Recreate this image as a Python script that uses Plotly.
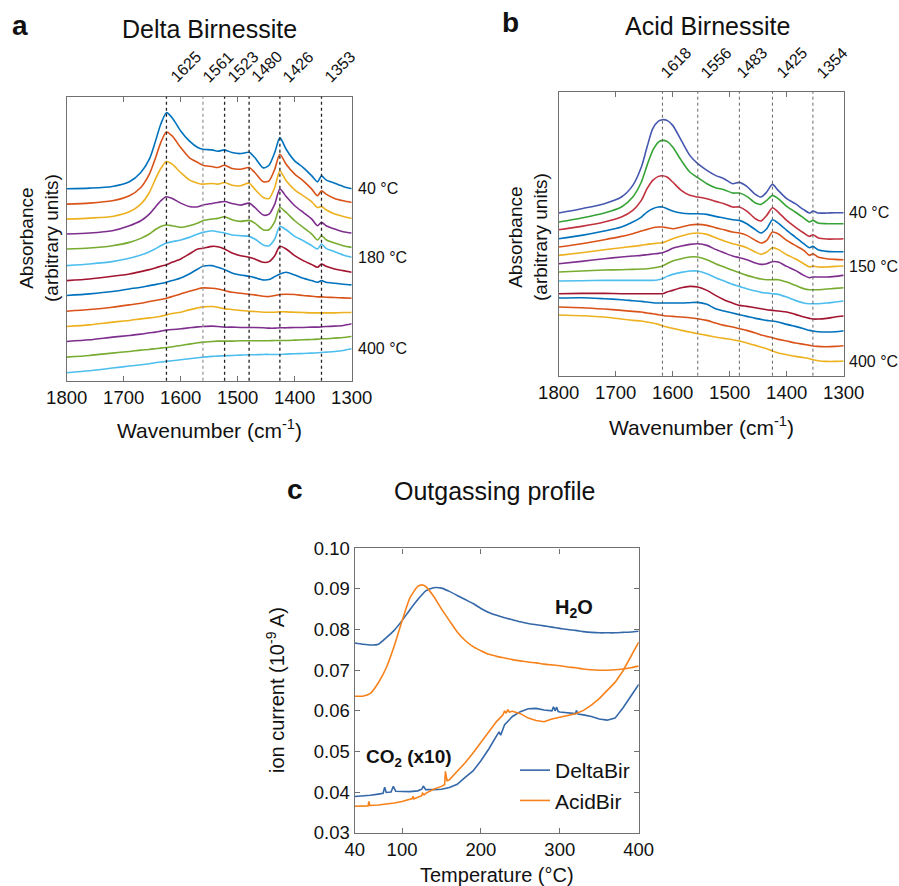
import plotly.graph_objects as go

W, H = 899, 886
FONT = "Liberation Sans, Arial, Helvetica, sans-serif"

# ---------------- Panel a: Delta Birnessite DRIFT spectra (offset, arbitrary units) ----------------
WN_A = [1800, 1760, 1720, 1690, 1670, 1655, 1645, 1635, 1625, 1615, 1600, 1585, 1570, 1561,
        1545, 1535, 1523, 1510, 1495, 1480, 1470, 1455, 1445, 1435, 1426, 1415, 1400, 1385,
        1370, 1360, 1353, 1345, 1330, 1315, 1300]

DELTA_01 = [577, 579, 584, 598, 626, 666, 716, 771, 806, 791, 751, 721, 701, 696, 694, 690, 694, 686,
            683, 687, 671, 640, 648, 686, 731, 696, 661, 641, 616, 598, 616, 604, 594, 584, 577]
DELTA_02 = [531, 534, 541, 556, 581, 621, 666, 716, 748, 736, 701, 671, 656, 648, 644, 641, 648, 638,
            636, 641, 626, 598, 601, 636, 681, 651, 621, 601, 576, 556, 571, 561, 548, 541, 536]
DELTA_03 = [486, 489, 494, 508, 531, 566, 604, 638, 659, 651, 626, 604, 594, 591, 593, 591, 596, 588,
            586, 594, 576, 551, 548, 581, 631, 601, 574, 556, 538, 521, 524, 514, 501, 494, 488]
DELTA_04 = [441, 444, 451, 466, 481, 501, 521, 541, 553, 548, 534, 524, 523, 528, 533, 536, 539, 533,
            528, 534, 521, 498, 501, 531, 576, 554, 526, 506, 486, 466, 476, 466, 456, 448, 444]
DELTA_05 = [396, 399, 406, 416, 428, 441, 454, 464, 468, 466, 461, 466, 474, 481, 486, 488, 493, 484,
            479, 482, 474, 454, 454, 478, 521, 506, 481, 461, 441, 423, 436, 424, 414, 406, 401]
DELTA_06 = [346, 351, 358, 368, 378, 388, 396, 406, 414, 418, 423, 431, 441, 446, 451, 448, 444, 438,
            436, 434, 426, 408, 406, 426, 464, 454, 434, 421, 406, 396, 411, 398, 388, 378, 371]
DELTA_07 = [301, 306, 314, 321, 328, 334, 339, 344, 349, 356, 366, 381, 396, 398, 404, 403, 396, 384,
            376, 371, 366, 356, 358, 376, 404, 396, 376, 361, 349, 341, 351, 344, 336, 331, 326]
DELTA_08 = [256, 261, 268, 276, 281, 286, 289, 292, 296, 301, 309, 321, 336, 344, 346, 341, 334, 324,
            318, 314, 310, 303, 304, 313, 321, 326, 318, 308, 301, 296, 301, 296, 293, 290, 288]
DELTA_09 = [209, 214, 221, 228, 233, 238, 241, 244, 248, 253, 261, 269, 276, 279, 278, 276, 271, 266,
            263, 260, 258, 254, 253, 256, 259, 260, 259, 256, 254, 252, 252, 251, 250, 249, 248]
DELTA_10 = [163, 168, 176, 181, 186, 189, 191, 194, 198, 202, 206, 213, 219, 222, 223, 221, 216, 214,
            211, 209, 208, 206, 206, 206, 207, 207, 206, 205, 204, 204, 204, 204, 204, 205, 205]
DELTA_11 = [118, 123, 131, 136, 140, 144, 146, 149, 152, 154, 156, 159, 162, 163, 164, 163, 161, 161,
            160, 160, 160, 159, 158, 158, 159, 159, 160, 160, 161, 161, 162, 163, 164, 166, 171]
DELTA_12 = [71, 76, 83, 88, 92, 94, 96, 98, 100, 102, 106, 110, 114, 116, 118, 119, 119, 119,
            120, 120, 120, 120, 120, 121, 121, 121, 122, 123, 124, 125, 126, 126, 128, 130, 133]
DELTA_13 = [24, 30, 38, 44, 48, 51, 54, 56, 58, 60, 63, 66, 69, 71, 73, 74, 75, 76,
            77, 78, 78, 79, 79, 79, 79, 80, 81, 82, 83, 84, 85, 86, 88, 91, 96]

PEAKS_A = [1625, 1561, 1523, 1480, 1426, 1353]
TEMPS_A = {"40": DELTA_01, "180": DELTA_06, "400": DELTA_13}

# ---------------- Panel b: Acid Birnessite DRIFT spectra ----------------
WN_B = [1800, 1760, 1720, 1690, 1670, 1655, 1645, 1635, 1625, 1618, 1610, 1600, 1585, 1570,
        1556, 1540, 1525, 1510, 1495, 1483, 1470, 1455, 1445, 1435, 1425, 1415, 1400, 1385,
        1370, 1360, 1354, 1345, 1330, 1315, 1300]

ACID_01 = [488, 501, 516, 536, 571, 626, 686, 741, 764, 768, 766, 751, 706, 661, 636, 616, 601, 591,
           576, 580, 568, 544, 536, 551, 574, 556, 531, 516, 498, 488, 494, 488, 488, 489, 489]
ACID_02 = [461, 473, 488, 506, 536, 581, 631, 676, 701, 706, 703, 686, 646, 611, 594, 576, 564, 558,
           548, 548, 538, 518, 514, 526, 541, 531, 508, 491, 473, 461, 466, 458, 456, 456, 456]
ACID_03 = [438, 448, 461, 476, 496, 526, 561, 586, 598, 600, 596, 581, 556, 541, 536, 531, 523, 516,
           506, 506, 494, 471, 464, 481, 504, 491, 466, 446, 428, 418, 423, 414, 410, 410, 411]
ACID_04 = [411, 421, 434, 446, 461, 476, 491, 501, 506, 506, 501, 494, 488, 486, 486, 484, 478, 473,
           468, 466, 456, 438, 428, 441, 468, 458, 436, 416, 396, 384, 388, 378, 373, 372, 372]
ACID_05 = [386, 396, 408, 418, 426, 434, 439, 444, 446, 446, 444, 441, 446, 452, 454, 451, 444, 438,
           431, 428, 421, 406, 398, 406, 431, 426, 406, 391, 376, 361, 366, 356, 351, 349, 348]
ACID_06 = [361, 369, 378, 384, 388, 391, 394, 396, 398, 399, 404, 411, 419, 426, 428, 424, 414, 404,
           396, 391, 384, 371, 364, 371, 384, 379, 363, 351, 336, 326, 329, 326, 326, 328, 329]
ACID_07 = [336, 343, 351, 356, 359, 361, 363, 365, 367, 369, 374, 382, 389, 394, 396, 391, 379, 369,
           359, 354, 348, 338, 334, 336, 342, 341, 328, 316, 301, 294, 296, 296, 296, 298, 301]
ACID_08 = [311, 314, 317, 318, 319, 320, 321, 323, 326, 329, 336, 344, 351, 356, 356, 348, 336, 326,
           316, 309, 301, 294, 290, 288, 288, 288, 281, 271, 261, 258, 258, 258, 260, 262, 264]
ACID_09 = [284, 285, 286, 286, 286, 286, 286, 286, 288, 291, 298, 304, 310, 314, 314, 306, 294, 284,
           274, 268, 261, 254, 250, 248, 246, 244, 236, 226, 218, 216, 216, 216, 218, 221, 224]
ACID_10 = [246, 247, 247, 246, 246, 246, 246, 246, 246, 246, 251, 256, 264, 268, 266, 256, 241, 228,
           218, 211, 208, 204, 201, 198, 196, 194, 191, 184, 176, 172, 170, 170, 172, 176, 179]
ACID_11 = [233, 234, 231, 228, 225, 223, 221, 219, 218, 218, 218, 218, 218, 219, 220, 214, 201, 194,
           188, 183, 178, 172, 169, 166, 164, 161, 154, 148, 141, 136, 134, 132, 131, 132, 135]
ACID_12 = [206, 204, 200, 196, 193, 191, 188, 186, 183, 181, 179, 178, 176, 174, 171, 166, 158, 151,
           146, 141, 136, 128, 122, 118, 114, 109, 104, 98, 94, 91, 89, 88, 87, 88, 90]
ACID_13 = [182, 180, 176, 170, 166, 164, 161, 158, 154, 150, 146, 142, 136, 131, 126, 121, 116, 112,
           108, 104, 98, 91, 86, 81, 74, 68, 63, 58, 54, 51, 48, 45, 43, 43, 44]

PEAKS_B = [1618, 1556, 1483, 1425, 1354]
TEMPS_B = {"40": ACID_01, "150": ACID_06, "400": ACID_13}

# ---------------- Panel c: outgassing profile (ion current, 1e-9 A) ----------------
T_H2O = [40, 50, 60, 70, 80, 90, 100, 110, 120, 125, 130, 140, 150, 160, 170, 180, 190, 200,
         210, 220, 230, 240, 250, 260, 270, 280, 290, 300, 310, 320, 330, 340, 350, 360, 370,
         380, 390, 400]
H2O_DELTA = [0.0767, 0.0764, 0.0762, 0.0764, 0.0780, 0.0798, 0.0822, 0.0849, 0.0874, 0.0885,
             0.0895, 0.0903, 0.0902, 0.0894, 0.0884, 0.0874, 0.0864, 0.0852, 0.0842, 0.0835,
             0.0829, 0.0824, 0.0819, 0.0815, 0.0812, 0.0809, 0.0806, 0.0803, 0.0800, 0.0798,
             0.0795, 0.0793, 0.0792, 0.0792, 0.0792, 0.0793, 0.0794, 0.0796]
H2O_ACID = [0.0636, 0.0636, 0.0643, 0.0669, 0.0706, 0.0759, 0.0821, 0.0878, 0.0906, 0.0910,
            0.0906, 0.0882, 0.0851, 0.0822, 0.0794, 0.0773, 0.0758, 0.0748, 0.0739, 0.0734,
            0.0730, 0.0726, 0.0723, 0.0720, 0.0718, 0.0715, 0.0713, 0.0711, 0.0708, 0.0706,
            0.0703, 0.0701, 0.0700, 0.0700, 0.0701, 0.0703, 0.0706, 0.0710]

T_CO2_DELTA = [40, 50, 60, 70, 76, 78, 80, 86, 89, 92, 100, 110, 120, 125, 127, 130, 140, 150, 160,
               170, 180, 190, 200, 210, 220, 223, 225, 227, 230, 240, 250, 260, 270, 280, 290, 292,
               294, 296, 298, 300, 310, 320, 321, 323, 330, 340, 350, 360, 370, 380, 390, 400]
CO2_DELTA = [0.0389, 0.0390, 0.0392, 0.0395, 0.0397, 0.0412, 0.0399, 0.0400, 0.0414, 0.0402,
             0.0402, 0.0401, 0.0403, 0.0407, 0.0415, 0.0406, 0.0406, 0.0407, 0.0411, 0.0419,
             0.0436, 0.0452, 0.0477, 0.0506, 0.0539, 0.0548, 0.0540, 0.0552, 0.0566, 0.0586,
             0.0598, 0.0605, 0.0606, 0.0602, 0.0600, 0.0610, 0.0600, 0.0609, 0.0598, 0.0597,
             0.0595, 0.0593, 0.0601, 0.0592, 0.0590, 0.0586, 0.0580, 0.0577, 0.0582, 0.0607,
             0.0636, 0.0665]

T_CO2_ACID = [40, 50, 57, 58, 59, 70, 80, 90, 100, 110, 113, 114, 115, 120, 125, 126, 128, 130, 140,
              150, 154, 155, 157, 160, 170, 180, 190, 200, 210, 220, 228, 230, 232, 234, 236, 240,
              250, 260, 270, 280, 290, 300, 310, 320, 330, 340, 350, 360, 370, 380, 390, 400]
CO2_ACID = [0.0365, 0.0366, 0.0366, 0.0377, 0.0367, 0.0368, 0.0370, 0.0373, 0.0377, 0.0381,
            0.0384, 0.0390, 0.0383, 0.0387, 0.0391, 0.0397, 0.0393, 0.0397, 0.0407, 0.0414,
            0.0418, 0.0451, 0.0428, 0.0430, 0.0451, 0.0472, 0.0496, 0.0523, 0.0550, 0.0574,
            0.0590, 0.0600, 0.0594, 0.0603, 0.0597, 0.0599, 0.0593, 0.0582, 0.0576, 0.0573,
            0.0580, 0.0584, 0.0588, 0.0593, 0.0601, 0.0614, 0.0630, 0.0650, 0.0670, 0.0698,
            0.0733, 0.0769]

# ---------------- styling ----------------
MATLAB = ["#0072BD", "#D95319", "#EDB120", "#7E2F8E", "#77AC30", "#4DBEEE", "#A2142F"]
COLORS_A = [MATLAB[i % 7] for i in range(13)]
COLORS_B = ["#4657B0", "#36A336", "#C1323F"] + [MATLAB[i % 7] for i in range(10)]
BLUE_C, ORANGE_C = "#3468A8", "#F7821B"
AXIS_COL = "#707070"
TXT = "#111111"


def px(x):
    return x / W


def py(y):
    return 1 - y / H


# panel boxes in pixels: left, right, top, bottom
BOX_A = (66.7, 351.7, 96.7, 380.7)
BOX_B = (558.7, 843.7, 91.7, 375.7)
BOX_C = (354.7, 638.7, 548.3, 832.7)

fig = go.Figure()

delta_series = [DELTA_01, DELTA_02, DELTA_03, DELTA_04, DELTA_05, DELTA_06, DELTA_07,
                DELTA_08, DELTA_09, DELTA_10, DELTA_11, DELTA_12, DELTA_13]
acid_series = [ACID_01, ACID_02, ACID_03, ACID_04, ACID_05, ACID_06, ACID_07,
               ACID_08, ACID_09, ACID_10, ACID_11, ACID_12, ACID_13]

for vals, col in zip(delta_series, COLORS_A):
    fig.add_trace(go.Scatter(x=WN_A, y=vals, mode="lines", xaxis="x", yaxis="y",
                             line=dict(color=col, width=1.6, shape="spline", smoothing=0.7),
                             showlegend=False, hoverinfo="skip"))
for vals, col in zip(acid_series, COLORS_B):
    fig.add_trace(go.Scatter(x=WN_B, y=vals, mode="lines", xaxis="x2", yaxis="y2",
                             line=dict(color=col, width=1.6, shape="spline", smoothing=0.7),
                             showlegend=False, hoverinfo="skip"))

fig.add_trace(go.Scatter(x=T_H2O, y=H2O_DELTA, mode="lines", xaxis="x3", yaxis="y3",
                         line=dict(color=BLUE_C, width=1.6, shape="spline", smoothing=0.6),
                         showlegend=False, hoverinfo="skip"))
fig.add_trace(go.Scatter(x=T_H2O, y=H2O_ACID, mode="lines", xaxis="x3", yaxis="y3",
                         line=dict(color=ORANGE_C, width=1.6, shape="spline", smoothing=0.6),
                         showlegend=False, hoverinfo="skip"))
fig.add_trace(go.Scatter(x=T_CO2_DELTA, y=CO2_DELTA, mode="lines", xaxis="x3", yaxis="y3",
                         name="DeltaBir", line=dict(color=BLUE_C, width=1.6),
                         hoverinfo="skip"))
fig.add_trace(go.Scatter(x=T_CO2_ACID, y=CO2_ACID, mode="lines", xaxis="x3", yaxis="y3",
                         name="AcidBir", line=dict(color=ORANGE_C, width=1.6),
                         hoverinfo="skip"))


def dom_x(box):
    return [px(box[0]), px(box[1])]


def dom_y(box):
    return [py(box[3]), py(box[2])]


base_axis = dict(showline=True, linecolor=AXIS_COL, linewidth=1.4, showgrid=False,
                 zeroline=False, ticks="inside", ticklen=5, tickwidth=1.2, tickcolor=AXIS_COL,
                 automargin=False, tickfont=dict(family=FONT, size=18.5, color=TXT))

spec_x = dict(base_axis, range=[1800, 1300], tickvals=[1800, 1700, 1600, 1500, 1400, 1300],
              mirror="ticks")
spec_y = dict(showline=True, linecolor=AXIS_COL, linewidth=1.4, mirror=True, showgrid=False,
              zeroline=False, showticklabels=False, ticks="", automargin=False)

fig.update_layout(
    width=W, height=H, margin=dict(l=0, r=0, t=0, b=0, pad=0, autoexpand=False),
    paper_bgcolor="white", plot_bgcolor="white",
    font=dict(family=FONT, color=TXT),
    xaxis=dict(spec_x, domain=dom_x(BOX_A), anchor="y"),
    yaxis=dict(spec_y, domain=dom_y(BOX_A), anchor="x", range=[0, 854]),
    xaxis2=dict(spec_x, domain=dom_x(BOX_B), anchor="y2"),
    yaxis2=dict(spec_y, domain=dom_y(BOX_B), anchor="x2", range=[0, 852]),
    xaxis3=dict(base_axis, domain=dom_x(BOX_C), anchor="y3", range=[40, 400],
                tickvals=[40, 100, 200, 300, 400], mirror="ticks"),
    yaxis3=dict(base_axis, domain=dom_y(BOX_C), anchor="x3", range=[0.03, 0.10],
                tickvals=[0.03, 0.04, 0.05, 0.06, 0.07, 0.08, 0.09, 0.10], tickformat=".2f",
                mirror="ticks"),
    showlegend=True,
    legend=dict(x=px(515), y=py(750), xanchor="left", yanchor="top",
                bgcolor="rgba(0,0,0,0)", font=dict(family=FONT, size=21, color=TXT)),
)

shapes = []
for p in PEAKS_A:
    shapes.append(dict(type="line", xref="x", yref="y domain", x0=p, x1=p, y0=0, y1=1,
                       line=dict(color="#9a9a9a" if p == 1561 else "#222222", width=1.3,
                                 dash="dot")))
for p in PEAKS_B:
    shapes.append(dict(type="line", xref="x2", yref="y2 domain", x0=p, x1=p, y0=0, y1=1,
                       line=dict(color="#555555", width=0.9, dash="3px,3px")))
fig.update_layout(shapes=shapes)

ann = []


def text(x, y, s, size, **kw):
    d = dict(x=px(x), y=py(y), xref="paper", yref="paper", text=s, showarrow=False,
             font=dict(family=FONT, size=size, color=TXT), xanchor="center", yanchor="middle")
    d.update(kw)
    ann.append(d)


# panel letters and titles
text(20, 25, "<b>a</b>", 28)
text(510, 23, "<b>b</b>", 28)
text(295, 489, "<b>c</b>", 28)
text(209, 29, "Delta Birnessite", 25)
text(707, 26, "Acid Birnessite", 25)
text(495, 491, "Outgassing profile", 25)

# axis titles
text(209, 429, "Wavenumber (cm<sup>-1</sup>)", 21)
text(701, 426, "Wavenumber (cm<sup>-1</sup>)", 21)
text(39, 238, "Absorbance<br>(arbitrary units)", 19, textangle=-90)
text(528, 237, "Absorbance<br>(arbitrary units)", 19, textangle=-90)
text(497, 875, "Temperature (°C)", 20)
text(275, 690, "ion current (10<sup>-9</sup> A)", 20, textangle=-90)

# gas labels
text(553, 608, "<b>H<sub>2</sub>O</b>", 20, xanchor="left")
text(364, 758, "<b>CO<sub>2</sub> (x10)</b>", 19, xanchor="left")

# rotated peak labels above each spectrum panel
for p, dx in zip(PEAKS_A, [-2, -6, -3, -4, -3, -3]):
    ann.append(dict(x=p, xref="x", y=py(88), yref="paper", text=str(p), showarrow=False,
                    textangle=-45, xanchor="left", yanchor="bottom", xshift=dx,
                    font=dict(family=FONT, size=16, color=TXT)))
for p, dx in zip(PEAKS_B, [-8, -3, -9, -2, -2]):
    ann.append(dict(x=p, xref="x2", y=py(84), yref="paper", text=str(p), showarrow=False,
                    textangle=-45, xanchor="left", yanchor="bottom", xshift=dx,
                    font=dict(family=FONT, size=16, color=TXT)))

# temperature labels at the right end of selected spectra
for t, vals in TEMPS_A.items():
    ann.append(dict(x=px(356), xref="paper", y=vals[-1], yref="y", text=f"{t} °C",
                    showarrow=False, xanchor="left", yanchor="middle",
                    font=dict(family=FONT, size=16, color=TXT)))
for t, vals in TEMPS_B.items():
    ann.append(dict(x=px(847), xref="paper", y=vals[-1], yref="y2", text=f"{t} °C",
                    showarrow=False, xanchor="left", yanchor="middle",
                    font=dict(family=FONT, size=16, color=TXT)))

fig.update_layout(annotations=ann)

fig.write_html("out.html", config={"displayModeBar": False})
